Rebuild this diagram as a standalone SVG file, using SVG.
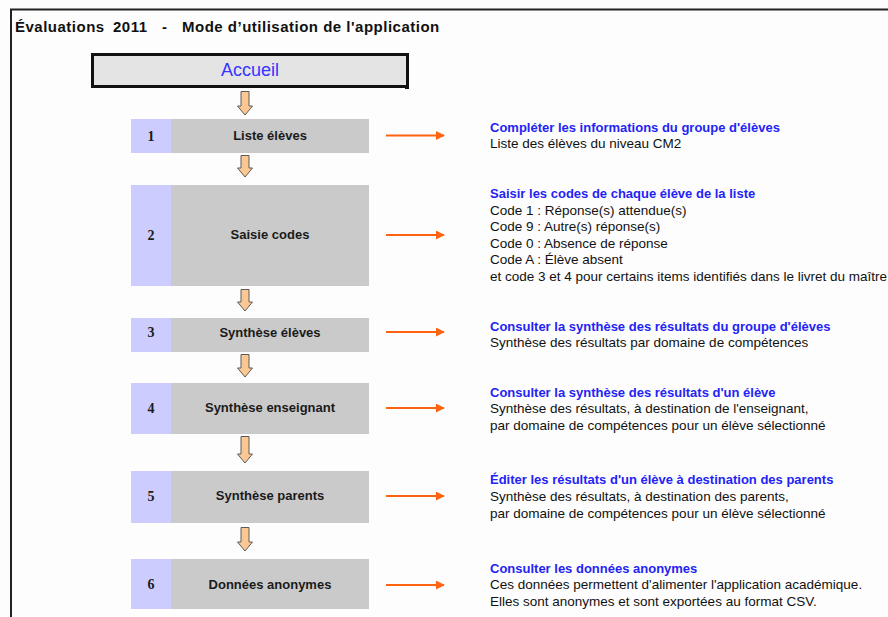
<svg xmlns="http://www.w3.org/2000/svg" width="888" height="617" viewBox="0 0 888 617">
<defs>
<style>
.t{font-family:"Liberation Sans",Arial,sans-serif;}
.title{font-family:"Liberation Sans",Arial,sans-serif;font-weight:bold;font-size:15px;letter-spacing:0.5px;fill:#111;}
.num{fill:#ccccff;}
.cell{fill:#cacaca;}
.lbl{font-family:"Liberation Sans",Arial,sans-serif;font-weight:bold;font-size:13px;fill:#1a1a1a;text-anchor:middle;}
.n{font-family:"Liberation Serif","Times New Roman",serif;font-weight:bold;font-size:14px;fill:#1a1a1a;text-anchor:middle;}
.h{font-family:"Liberation Sans",Arial,sans-serif;font-weight:bold;font-size:13px;fill:#2323f5;}
.b{font-family:"Liberation Sans",Arial,sans-serif;font-size:13.5px;fill:#111;}
.blk{fill:#fbc894;stroke:#5a5a5a;stroke-width:1;}
.orn{stroke:#ff6310;stroke-width:2;fill:none;marker-end:url(#ah);}
</style>
<marker id="ah" viewBox="0 0 10 10" refX="9" refY="5" markerWidth="4.5" markerHeight="4.5" orient="auto" markerUnits="strokeWidth">
<path d="M0,0 L10,5 L0,10 z" fill="#ff6310"/>
</marker>
</defs>
<rect x="0" y="0" width="888" height="617" fill="#fdfdfd"/>
<g id="frame">
<line x1="10" y1="9.5" x2="888" y2="9.5" stroke="#222" stroke-width="2"/>
<line x1="11" y1="9" x2="11" y2="617" stroke="#222" stroke-width="2"/>
</g>
<g id="title">
<text class="title" x="15" y="32">Évaluations</text>
<text class="title" x="113" y="32">2011</text>
<text class="title" x="162" y="32">-</text>
<text class="title" x="182" y="32">Mode d’utilisation de l'application</text>
</g>
<g id="accueil">
<rect x="92.5" y="54.5" width="315" height="32" fill="#e4e4e4" stroke="#111" stroke-width="3"/>
<rect x="405" y="85" width="4" height="4" fill="#111"/>
<text class="t" x="250" y="76" font-size="18" fill="#3434ff" text-anchor="middle">Accueil</text>
</g>
<g id="step1">
<rect class="num" x="131" y="119" width="40" height="34"/>
<rect class="cell" x="171" y="119" width="198" height="34"/>
<text class="n" x="151" y="141">1</text>
<text class="lbl" x="270" y="140">Liste élèves</text>
</g>
<g id="step2">
<rect class="num" x="131" y="185" width="40" height="101"/>
<rect class="cell" x="171" y="185" width="198" height="101"/>
<text class="n" x="151" y="240">2</text>
<text class="lbl" x="270" y="239">Saisie codes</text>
</g>
<g id="step3">
<rect class="num" x="131" y="318" width="40" height="34"/>
<rect class="cell" x="171" y="318" width="198" height="34"/>
<text class="n" x="151" y="337">3</text>
<text class="lbl" x="270" y="337">Synthèse élèves</text>
</g>
<g id="step4">
<rect class="num" x="131" y="383" width="40" height="51"/>
<rect class="cell" x="171" y="383" width="198" height="51"/>
<text class="n" x="151" y="413">4</text>
<text class="lbl" x="270" y="412">Synthèse enseignant</text>
</g>
<g id="step5">
<rect class="num" x="131" y="471" width="40" height="52"/>
<rect class="cell" x="171" y="471" width="198" height="52"/>
<text class="n" x="151" y="501">5</text>
<text class="lbl" x="270" y="500">Synthèse parents</text>
</g>
<g id="step6">
<rect class="num" x="131" y="559" width="40" height="50"/>
<rect class="cell" x="171" y="559" width="198" height="50"/>
<text class="n" x="151" y="589">6</text>
<text class="lbl" x="270" y="589">Données anonymes</text>
</g>
<g id="desc1">
<text class="h" x="490" y="132">Compléter les informations du groupe d'élèves</text>
<text class="b" x="490" y="148">Liste des élèves du niveau CM2</text>
</g>
<g id="desc2">
<text class="h" x="490" y="198">Saisir les codes de chaque élève de la liste</text>
<text class="b" x="490" y="215">Code 1 : Réponse(s) attendue(s)</text>
<text class="b" x="490" y="231">Code 9 : Autre(s) réponse(s)</text>
<text class="b" x="490" y="248">Code 0 : Absence de réponse</text>
<text class="b" x="490" y="264">Code A : Élève absent</text>
<text class="b" x="490" y="281">et code 3 et 4 pour certains items identifiés dans le livret du maître</text>
</g>
<g id="desc3">
<text class="h" x="490" y="331">Consulter la synthèse des résultats du groupe d'élèves</text>
<text class="b" x="490" y="347">Synthèse des résultats par domaine de compétences</text>
</g>
<g id="desc4">
<text class="h" x="490" y="397">Consulter la synthèse des résultats d'un élève</text>
<text class="b" x="490" y="413">Synthèse des résultats, à destination de l'enseignant,</text>
<text class="b" x="490" y="430">par domaine de compétences pour un élève sélectionné</text>
</g>
<g id="desc5">
<text class="h" x="490" y="484">Éditer les résultats d'un élève à destination des parents</text>
<text class="b" x="490" y="501">Synthèse des résultats, à destination des parents,</text>
<text class="b" x="490" y="518">par domaine de compétences pour un élève sélectionné</text>
</g>
<g id="desc6">
<text class="h" x="490" y="573">Consulter les données anonymes</text>
<text class="b" x="490" y="589">Ces données permettent d'alimenter l'application académique.</text>
<text class="b" x="490" y="606">Elles sont anonymes et sont exportées au format CSV.</text>
</g>
<g id="connectors">
<path class="blk" d="M241,91.5 H249 V106 H252.5 L245,115 L237.5,106 H241 Z"/>
<path class="blk" d="M241,155.5 H249 V168 H252.5 L245,177 L237.5,168 H241 Z"/>
<path class="blk" d="M241,289.5 H249 V302 H252.5 L245,311 L237.5,302 H241 Z"/>
<path class="blk" d="M241,354.5 H249 V368 H252.5 L245,377 L237.5,368 H241 Z"/>
<path class="blk" d="M241,436.5 H249 V454 H252.5 L245,463 L237.5,454 H241 Z"/>
<path class="blk" d="M241,527.5 H249 V542 H252.5 L245,551 L237.5,542 H241 Z"/>
<line class="orn" x1="386" y1="135.5" x2="444" y2="135.5"/>
<line class="orn" x1="386" y1="235" x2="444" y2="235"/>
<line class="orn" x1="386" y1="332" x2="444" y2="332"/>
<line class="orn" x1="386" y1="408" x2="444" y2="408"/>
<line class="orn" x1="386" y1="496" x2="444" y2="496"/>
<line class="orn" x1="386" y1="585" x2="444" y2="585"/>
</g>
</svg>
